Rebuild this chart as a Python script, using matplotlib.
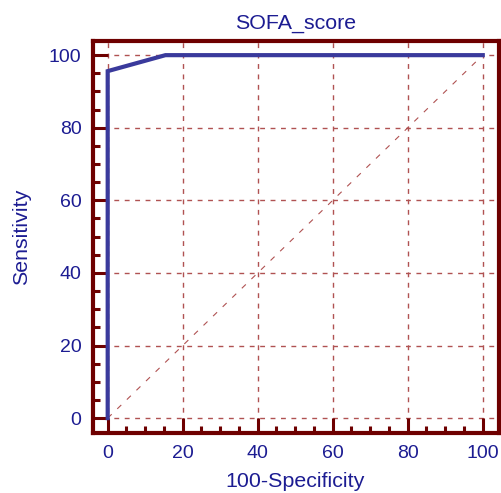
import matplotlib
matplotlib.use("Agg")
import matplotlib.pyplot as plt
from matplotlib.ticker import MultipleLocator

# ROC curve points for SOFA_score (100-Specificity, Sensitivity)
fpr = [0.0, 0.0, 15.4, 100.0]
tpr = [0.0, 95.6, 100.0, 100.0]
ref_x = [0, 100]
ref_y = [0, 100]

title = "SOFA_score"
xlabel = "100-Specificity"
ylabel = "Sensitivity"

frame_col = "#6e0000"
grid_col = "#b05252"
text_col = "#1c1c92"
curve_col = "#3a3a9c"

plt.rcParams["font.family"] = ["Liberation Sans", "DejaVu Sans"]

fig = plt.figure(figsize=(5.01, 4.93), dpi=100)
W, H = 501, 493
left, right, top, bottom = 92.5, 498.5, 41, 433
ax = fig.add_axes([left / W, 1 - bottom / H, (right - left) / W, (bottom - top) / H])

ax.set_xlim(-4.05, 104.2)
ax.set_ylim(-4.1, 103.9)

# grid and chance diagonal
for v in range(0, 101, 20):
    ax.axvline(v, color=grid_col, lw=1.0, ls=(0, (3.5, 4)), zorder=1)
    ax.axhline(v, color=grid_col, lw=1.0, ls=(0, (3.5, 4)), zorder=1)
ax.plot(ref_x, ref_y, color=grid_col, lw=0.8, ls=(0, (5, 7)), zorder=1)

ax.plot(fpr, tpr, color=curve_col, lw=3.0, solid_joinstyle="miter", zorder=3)

for s in ax.spines.values():
    s.set_color(frame_col)
    s.set_linewidth(3.0)

ax.xaxis.set_major_locator(MultipleLocator(20))
ax.xaxis.set_minor_locator(MultipleLocator(5))
ax.yaxis.set_major_locator(MultipleLocator(20))
ax.yaxis.set_minor_locator(MultipleLocator(5))
ax.tick_params(which="major", direction="in", length=11, width=2.2, color=frame_col,
               labelsize=14, labelcolor=text_col)
ax.tick_params(which="minor", direction="in", length=5, width=2.2, color=frame_col)
ax.tick_params(axis="y", pad=8)
ax.tick_params(axis="x", pad=9)

ax.set_title(title, fontsize=15.4, color=text_col, pad=9)
ax.set_xlabel(xlabel, fontsize=15.4, color=text_col, labelpad=7)
ax.set_ylabel(ylabel, fontsize=15.4, color=text_col, labelpad=13)

fig.savefig("out.png", dpi=100)
